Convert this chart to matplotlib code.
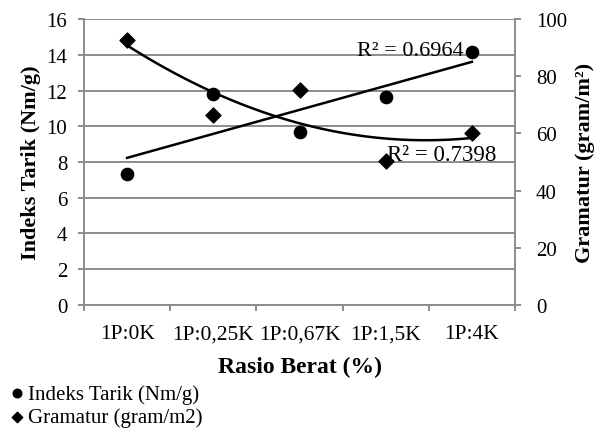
import numpy as np
import matplotlib
matplotlib.use("Agg")
import matplotlib.pyplot as plt

plt.rcParams["font.family"] = ["Liberation Serif", "DejaVu Serif"]

# ── Data ───────────────────────────────────────────────────────────────────────
categories = ["1P:0K", "1P:0,25K", "1P:0,67K", "1P:1,5K", "1P:4K"]
indeks_tarik = [7.35, 11.78, 9.70, 11.61, 14.15]      # Nm/g, left axis
gramatur = [92.8, 66.4, 75.3, 50.5, 60.3]             # gram/m2, right axis
r2_tarik = "R² = 0.6964"
r2_gramatur = "R² = 0.7398"

x = np.arange(len(categories))
grid_col = "#8c8c8c"

fig = plt.figure(figsize=(6.12, 4.35), dpi=100)
ax = fig.add_axes([0.1373, 0.2966, 0.7042, 0.6574])
ax2 = ax.twinx()

# ── Left axis: Indeks Tarik ────────────────────────────────────────────────────
ax.set_xlim(-0.5, len(categories) - 0.5)
ax.set_ylim(0, 16)
ax.set_yticks(np.arange(0, 17, 2))
ax.grid(axis="y", color=grid_col, linewidth=1.4)
ax.set_axisbelow(True)

ax.set_xticks(np.arange(-0.5, len(categories), 1.0))
ax.set_xticklabels([])
ax.set_xticks(x, minor=True)
ax.set_xticklabels(categories, minor=True, fontsize=15.5)
ax.tick_params(axis="x", which="minor", length=0, pad=14)
ax.tick_params(axis="x", which="major", length=4, width=1.4, color=grid_col)
ax.tick_params(axis="y", length=4, width=1.4, color=grid_col, labelsize=15, pad=8)

for s in ["top", "right"]:
    ax.spines[s].set_visible(False)
for s in ["left", "bottom"]:
    ax.spines[s].set_color(grid_col)
    ax.spines[s].set_linewidth(1.4)

ax.scatter(x, indeks_tarik, marker="o", s=78, color="black", zorder=4,
           label="Indeks Tarik (Nm/g)")
p1 = np.polyfit(x, indeks_tarik, 1)
ax.plot(x, np.polyval(p1, x), color="black", linewidth=1.8, zorder=3)

ax.set_ylabel("Indeks Tarik (Nm/g)", fontsize=16, fontweight="bold", labelpad=4)
ax.set_xlabel("Rasio Berat (%)", fontsize=17, fontweight="bold", labelpad=9)

# ── Right axis: Gramatur ───────────────────────────────────────────────────────
ax2.set_ylim(0, 100)
ax2.set_yticks(np.arange(0, 101, 20))
ax2.tick_params(axis="y", length=4, width=1.4, color=grid_col, labelsize=15, pad=11)
for s in ["top", "left", "bottom"]:
    ax2.spines[s].set_visible(False)
ax2.spines["right"].set_color(grid_col)
ax2.spines["right"].set_linewidth(1.4)

ax2.scatter(x, gramatur, marker="D", s=58, color="black", zorder=4,
            label="Gramatur (gram/m2)")
p2 = np.polyfit(x, gramatur, 2)
xs = np.linspace(x[0], x[-1], 100)
ax2.plot(xs, np.polyval(p2, xs), color="black", linewidth=1.8, zorder=3)

ax2.set_ylabel("Gramatur (gram/m²)", fontsize=16, fontweight="bold", labelpad=6)

# ── R² labels ──────────────────────────────────────────────────────────────────
ax.text(3.9, 14.25, r2_tarik, fontsize=16, ha="right", va="center")
ax.text(3.02, 8.4, r2_gramatur, fontsize=16.5, ha="left", va="center")

# ── Legend below the chart ─────────────────────────────────────────────────────
h1, l1 = ax.get_legend_handles_labels()
h2, l2 = ax2.get_legend_handles_labels()
fig.legend(h1 + h2, l1 + l2, loc="upper left", bbox_to_anchor=(0.0, 0.141),
           frameon=False, fontsize=15, handlelength=0.5, handletextpad=0.3,
           markerscale=0.7, labelspacing=0.18, borderaxespad=0.15)

fig.savefig("out.png", dpi=100)
